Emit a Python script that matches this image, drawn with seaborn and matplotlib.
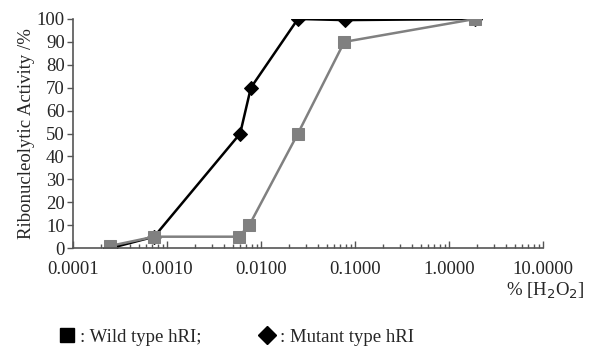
import pandas as pd
import seaborn as sns
import matplotlib.pyplot as plt
from matplotlib.lines import Line2D
from matplotlib.ticker import FixedLocator, LogLocator, NullFormatter

# % H2O2 concentrations and ribonucleolytic activity (%)
wild_x = [0.00025, 0.00073, 0.0058, 0.0075, 0.0247, 0.077, 1.9]
wild_y = [1, 5, 5, 10, 50, 90, 100]
mutant_x = [0.00025, 0.00073, 0.0060, 0.0078, 0.0247, 0.078, 1.9]
mutant_y = [0, 5, 50, 70, 100, 99.5, 100]

x_ticks = [0.0001, 0.001, 0.01, 0.1, 1, 10]
x_tick_labels = ['0.0001', '0.0010', '0.0100', '0.1000', '1.0000', '10.0000']
y_ticks = list(range(0, 101, 10))


def main():
    wild = pd.DataFrame({'x': wild_x, 'y': wild_y})
    mutant = pd.DataFrame({'x': mutant_x, 'y': mutant_y})

    sns.set_theme(style="ticks")
    plt.rcParams['font.family'] = ['Liberation Serif', 'DejaVu Serif']

    fig = plt.figure(figsize=(5.94, 3.51), dpi=100)
    ax = fig.add_axes([0.123, 0.293, 0.791, 0.653])

    sns.lineplot(data=mutant, x='x', y='y', ax=ax, color='black', lw=1.8,
                 marker='D', markersize=7, markeredgecolor='black', sort=False)
    sns.lineplot(data=wild, x='x', y='y', ax=ax, color='#808080', lw=1.8,
                 marker='s', markersize=8, markeredgecolor='#808080', sort=False)

    ax.set_xscale('log')
    ax.set_xlim(0.0001, 10)
    ax.set_ylim(0, 100)
    ax.xaxis.set_major_locator(FixedLocator(x_ticks))
    ax.set_xticklabels(x_tick_labels)
    ax.xaxis.set_minor_locator(LogLocator(base=10, subs=range(2, 10)))
    ax.xaxis.set_minor_formatter(NullFormatter())
    ax.set_yticks(y_ticks)

    ax.tick_params(axis='x', which='major', direction='in', length=5, width=1,
                   color='#555555', labelsize=13.5, pad=9)
    ax.tick_params(axis='x', which='minor', direction='in', length=3, width=1,
                   color='#555555')
    ax.tick_params(axis='y', direction='out', length=4, width=1,
                   color='#555555', labelsize=13.5, pad=2)

    sns.despine(ax=ax)
    for side in ['left', 'bottom']:
        ax.spines[side].set_color('#555555')
        ax.spines[side].set_linewidth(1.2)

    ax.set_xlabel('')
    ax.set_ylabel('Ribonucleolytic Activity /%', fontsize=13.5, labelpad=1)
    fig.text(0.918, 0.172, '% [H$_2$O$_2$]', fontsize=13.5, ha='center', va='center')

    handles = [
        Line2D([], [], ls='none', marker='s', color='black', markersize=10),
        Line2D([], [], ls='none', marker='D', color='black', markersize=9),
    ]
    fig.legend(handles, [': Wild type hRI;', ': Mutant type hRI'], ncol=2,
               loc='center left', bbox_to_anchor=(0.068, 0.04), frameon=False,
               fontsize=13.5, handletextpad=0.2, columnspacing=3.0,
               handlelength=1.0)

    fig.savefig('out.png', dpi=100)


if __name__ == '__main__':
    main()
